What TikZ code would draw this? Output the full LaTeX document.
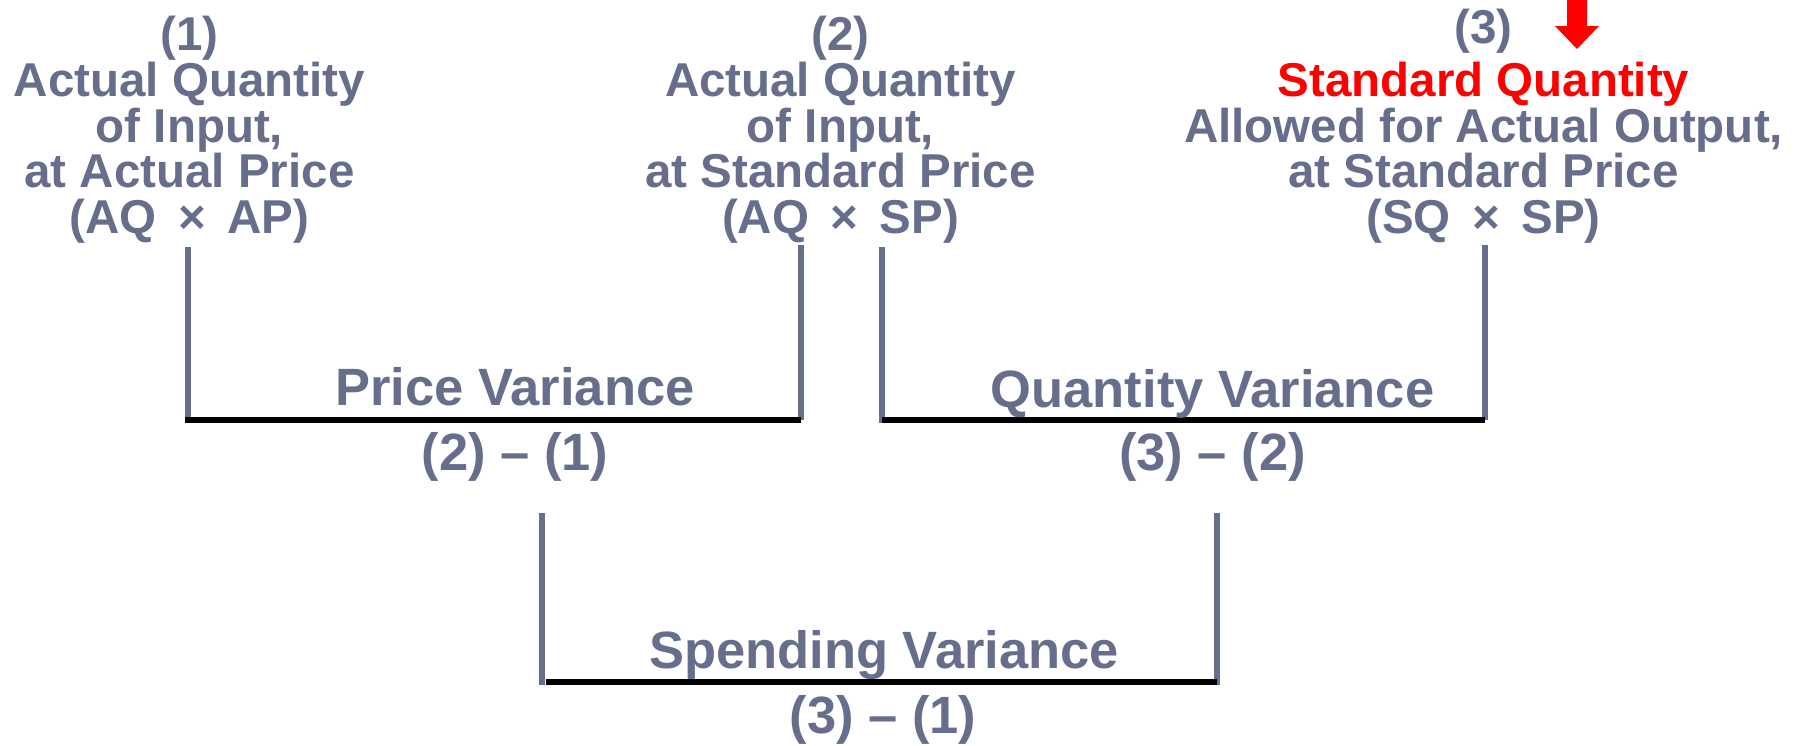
\documentclass[tikz,border=0pt]{standalone}
\usepackage{fontspec}
\setmainfont{Liberation Sans}
\definecolor{slate}{RGB}{102,110,140}
\definecolor{hotred}{RGB}{255,0,0}
\newcommand{\xtimes}{\hspace{0.45em}×\hspace{0.45em}}
\begin{document}
\begin{tikzpicture}[x=0.5pt,y=-0.5pt,
  coltext/.style={font=\fontsize{23.75}{23.75}\selectfont\bfseries, text=slate, inner sep=0pt, anchor=base},
  vartext/.style={font=\fontsize{26.25}{26.25}\selectfont\bfseries, text=slate, inner sep=0pt, anchor=base},
  bar/.style={draw=slate, line width=2.75pt},
  baseline/.style={draw=black, line width=2.9pt},
]
\useasboundingbox (0,0) rectangle (1799,745);

% column 1
\node[coltext] (h1) at (189.5,50) {(1)};
\node[coltext] (a1) at (189.5,96.5) {Actual Quantity};
\node[coltext] (b1) at (189.5,142) {of Input,};
\node[coltext] (c1) at (189.5,187.5) {at Actual Price};
\node[coltext] (d1) at (189.5,233) {(AQ\xtimes AP)};

% column 2
\node[coltext] (h2) at (840.5,50) {(2)};
\node[coltext] (a2) at (840.5,96.5) {Actual Quantity};
\node[coltext] (b2) at (840.5,142) {of Input,};
\node[coltext] (c2) at (840.5,187.5) {at Standard Price};
\node[coltext] (d2) at (840.5,233) {(AQ\xtimes SP)};

% column 3
\node[coltext] (h3) at (1483.5,43) {(3)};
\node[coltext, text=hotred] (a3) at (1483.5,96.5) {Standard Quantity};
\node[coltext] (b3) at (1483.5,142) {Allowed for Actual Output,};
\node[coltext] (c3) at (1483.5,187.5) {at Standard Price};
\node[coltext] (d3) at (1483.5,233) {(SQ\xtimes SP)};

% red arrow
\fill[hotred] (1567,0) -- (1587,0) -- (1587,26) -- (1599,26) -- (1577,49) -- (1555,26) -- (1567,26) -- cycle;

% bracket coordinates
\coordinate (p1t) at (188,247);
\coordinate (p1b) at (188,420);
\coordinate (p2t) at (801,245);
\coordinate (p2b) at (801,420);
\coordinate (q1t) at (882,247);
\coordinate (q1b) at (882,420);
\coordinate (q2t) at (1485,245);
\coordinate (q2b) at (1485,420);
\coordinate (s1t) at (542,513);
\coordinate (s1b) at (542,682);
\coordinate (s2t) at (1217,513);
\coordinate (s2b) at (1217,682);

% price variance bracket
\draw[bar] (p1t) -- ([yshift=-1.4pt]p1b);
\draw[bar] (p2t) -- (p2b);
\draw[baseline] ([xshift=-1.4pt]p1b) -- (p2b);
\node[vartext] (pv) at (515,405) {Price Variance};
\node[vartext] (pf) at (515,470) {(2) – (1)};

% quantity variance bracket
\draw[bar] (q1t) -- ([yshift=-1.4pt]q1b);
\draw[bar] (q2t) -- (q2b);
\draw[baseline] (q1b) -- (q2b);
\node[vartext] (qv) at (1212.5,407) {Quantity Variance};
\node[vartext] (qf) at (1212.5,470) {(3) – (2)};

% spending variance bracket
\draw[bar] (s1t) -- ([yshift=-1.4pt]s1b);
\draw[bar] (s2t) -- ([yshift=-1.4pt]s2b);
\draw[baseline] ([xshift=2pt]s1b) -- (s2b);
\node[vartext] (sv) at (884,668) {Spending Variance};
\node[vartext] (sf) at (883,733) {(3) – (1)};
\end{tikzpicture}
\end{document}
